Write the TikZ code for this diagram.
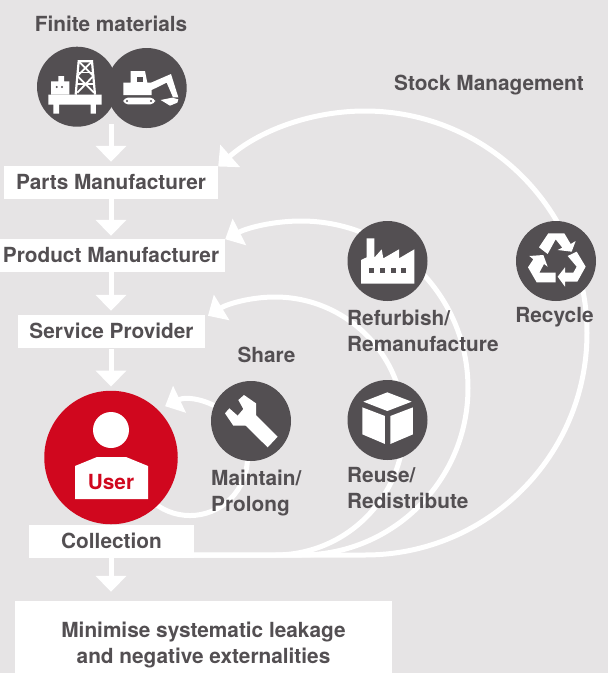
\documentclass[tikz,border=0pt]{standalone}
\usepackage{fontspec}
\setmainfont{TeX Gyre Heros}
\usetikzlibrary{arrows.meta}
\definecolor{bg}{HTML}{E6E4E5}
\definecolor{dk}{HTML}{534F52}
\definecolor{rd}{HTML}{D0071E}
\newcommand{\lblfont}{\fontsize{20.8}{26.5}\selectfont\bfseries}
\newcommand{\firstln}{\rule{0pt}{16pt}}
\tikzset{
 lbl/.style={font=\lblfont,text=dk,inner sep=0pt,align=left},
 wbox/.style={fill=white,inner sep=0pt,font=\lblfont,text=dk,text height=14.5pt,text depth=0pt},
 disc/.style={circle,fill=dk,minimum size=80pt,inner sep=0pt},
 flow/.style={draw=white,line width=5pt,-{Triangle[width=30pt,length=16pt]}},
 loopline/.style={draw=white,line width=5pt,-{Triangle[width=29pt,length=16pt]}},
 zm/.style 2 args={shift={(#1,#2)},x=0.33333pt,y=-0.33333pt},
 ink/.style={fill=white},
 hole/.style={fill=dk}
}
\begin{document}
\begin{tikzpicture}[x=1pt,y=-1pt]
\useasboundingbox (0,0) rectangle (608,673);
\fill[bg] (0,0) rectangle (608,673);
% boxes
\node[wbox,minimum width=214pt,minimum height=33pt] (parts) at (111,182.5) {Parts Manufacturer};
\node[wbox,minimum width=228pt,minimum height=33pt] (product) at (111,255.5) {Product Manufacturer};
\node[wbox,minimum width=187pt,minimum height=33pt] (service) at (111.5,331.5) {Service Provider};
\node[wbox,minimum width=165pt,minimum height=33pt] (collect) at (111.5,541.5) {Collection};
\node[fill=white,inner sep=0pt,minimum width=377pt,minimum height=72pt] (minbox) at (203.5,637) {};
\coordinate (rcStart) at (189,555);
\coordinate (rcA) at (365,555);
\coordinate (rfA) at (301,555);
\coordinate (ruA) at (275,555);
\coordinate (mtA) at (149.3,498.7);
% loops
\draw[loopline] (rcStart) -- (rcA) arc[start angle=-90,end angle=131.4,radius=222pt];
\draw[loopline] (rcStart) -- (rfA) arc[start angle=-90,end angle=117,radius=167pt];
\draw[loopline] (rcStart) -- (ruA) arc[start angle=-90,end angle=121.3,radius=129pt];
\draw[loopline] (mtA) arc[start angle=225,end angle=475.6,radius=57.5pt];
% discs
\node[disc] (rig) at (77,86.7) {};
\node[disc] (dig) at (146.7,88) {};
\node[disc] (wrench) at (251,421) {};
\node[disc] (factory) at (387.5,261) {};
\node[disc] (recycle) at (556,261) {};
\node[disc] (box) at (387.5,420) {};
\node[circle,fill=rd,minimum size=133.5pt,inner sep=0pt] (user) at (111,457.5) {};
% flow arrows
\coordinate (src) at (111,124);
\draw[flow,shorten >=4pt] (src) -- (src |- parts.north);
\draw[flow,shorten >=3pt] (parts.south) -- (parts.south |- product.north);
\draw[flow,shorten >=4pt] (parts.south |- product.south) -- (parts.south |- service.north);
\draw[flow,shorten >=4pt,shorten <=1pt] (parts.south |- service.south) -- (parts.south |- user.north);
\draw[flow,shorten >=9pt] (parts.south |- collect.south) -- (parts.south |- minbox.north);
% rig icon
\begin{scope}[zm={40}{52}]
 \fill[ink] (25,128) -- (185,128) -- (185,158) -- (168,158) -- (168,185) -- (152,185) -- (152,158) -- (57,158) -- (57,185) -- (40,185) -- (40,158) -- (25,158) -- cycle;
 \fill[ink] (33,88) -- (55,88) -- (55,72) -- (72,72) -- (72,88) -- (88,88) -- (88,128) -- (33,128) -- cycle;
 \fill[hole] (50,105) circle (3.3) (66,105) circle (3.3);
 \draw[white,line width=2.2pt] (107,128) -- (116,28) -- (156,28) -- (165,128);
 \draw[white,line width=1.8pt] (116,28) -- (160,72) -- (112,122) (156,28) -- (112,72) -- (162,122);
 \draw[white,line width=1.5pt] (113,62) -- (159,62) (110,96) -- (162,96);
\end{scope}
% digger icon
\begin{scope}[zm={115}{60}]
 \fill[ink] (25,68) -- (47,68) -- (47,33) -- (90,33) -- (97,68) -- (108,68) -- (168,42) -- (190,112) -- (174,112) -- (155,68) -- (110,90) -- (110,105) -- (25,105) -- cycle;
 \fill[hole] (65,50) rectangle (85,65);
 \fill[ink,rounded corners=4.5pt] (25,113) rectangle (120,133);
 \fill[hole] (36,123) circle (3.5) (108,123) circle (3.5);
 \fill[ink] (137,120) -- (172,113) -- (190,118) -- (187,128) -- (165,137) -- cycle;
\end{scope}
% wrench and box icons
\begin{scope}[zm={215}{385}]
 \fill[ink] (30,85) -- (43,70) -- (68,92) -- (85,72) -- (70,45) -- (87,30) -- (123,55) -- (123,90) -- (188,155) -- (158,187) -- (92,122) -- (55,122) -- cycle;
 \fill[ink] (517,22) -- (590,50) -- (517,78) -- (445,50) -- cycle;
 \fill[ink] (442,67) -- (510,93) -- (510,177) -- (442,148) -- cycle;
 \fill[ink] (526,93) -- (594,67) -- (594,148) -- (526,177) -- cycle;
\end{scope}
% factory icon
\begin{scope}[zm={350}{225}]
 \fill[ink] (33,176) -- (193,176) -- (193,73) -- (147,100) -- (147,73) -- (100,100) -- (95,73) -- (73,98) -- (73,40) -- (50,40) -- (50,97) -- (33,105) -- cycle;
 \foreach \wx in {57,90,122,153}{\fill[hole] (\wx,128) rectangle +(15,15);}
\end{scope}
% recycle icon
\begin{scope}[zm={520}{225}]
 \fill[ink] (57,67) -- (85,25) -- (133,25) -- (152,57) -- (167,48) -- (155,80) -- (113,75) -- (127,68) -- (107,43) -- (83,87) -- cycle;
 \fill[ink] (28,93) -- (70,90) -- (83,125) -- (72,117) -- (58,143) -- (107,143) -- (107,172) -- (50,172) -- (24,127) -- (40,103) -- cycle;
 \fill[ink] (143,93) -- (170,80) -- (197,125) -- (172,170) -- (135,170) -- (135,185) -- (113,155) -- (135,127) -- (135,143) -- (160,143) -- (170,125) -- cycle;
\end{scope}
% user icon
\fill[white] (111,430) circle (18pt);
\fill[white] (75,499) -- (75,466) -- (97,457) -- (126,457) -- (148,466) -- (148,499) -- cycle;
\node[font=\lblfont,text=rd,inner sep=0pt,anchor=base] (userlbl) at (111,489.5) {User};
% labels
\node[lbl,anchor=base] (finite) at (111,31) {Finite materials};
\node[lbl,anchor=base] (stock) at (489,90) {Stock Management};
\node[lbl,anchor=base] (share) at (266.5,362) {Share};
\node[lbl,anchor=north west] (ref) at (347,309) {\firstln Refurbish/\\Remanufacture};
\node[lbl,anchor=base] (rec) at (554.5,322.5) {Recycle};
\node[lbl,anchor=north west] (mnt) at (211,469) {\firstln Maintain/\\Prolong};
\node[lbl,anchor=north west] (reuse) at (347,466) {\firstln Reuse/\\Redistribute};
\node[lbl,align=center,anchor=north] (min) at (203.5,621) {\firstln Minimise systematic leakage\\and negative externalities};
\end{tikzpicture}
\end{document}
